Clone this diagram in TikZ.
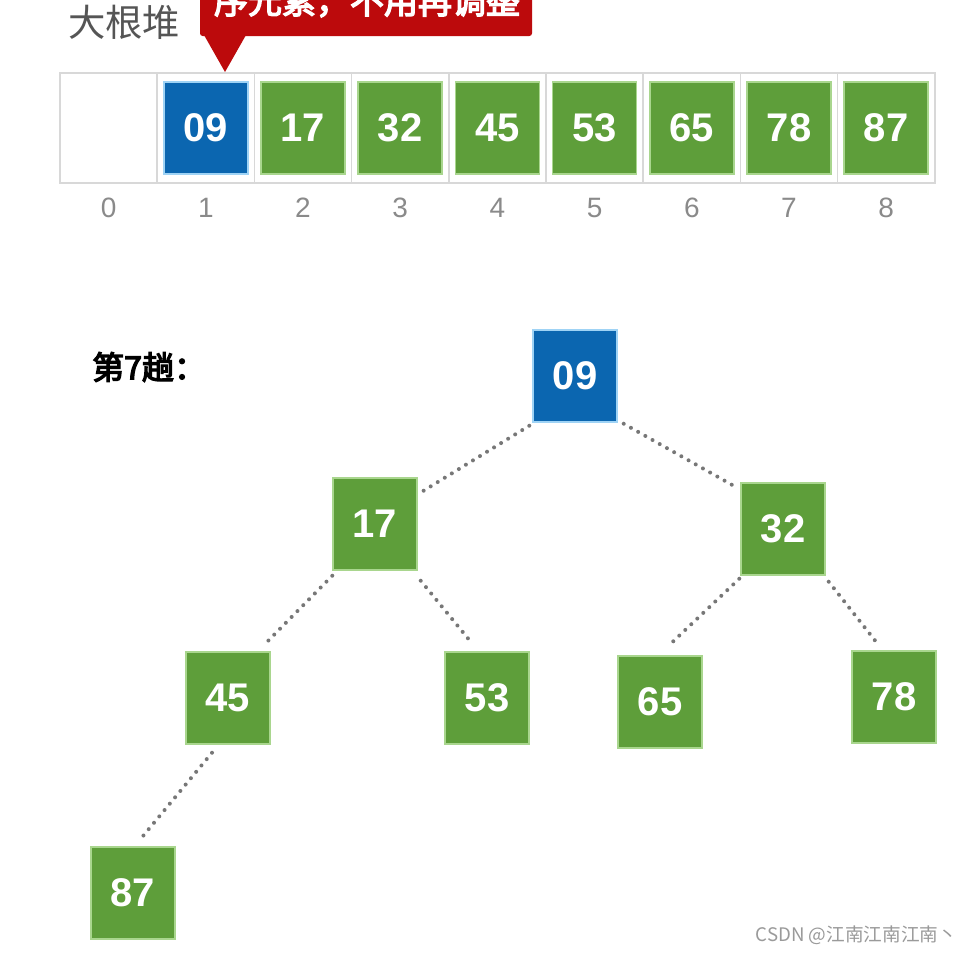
\documentclass[tikz,border=0pt]{standalone}
\usepackage{fontspec}
\setmainfont{Liberation Sans}
\newfontfamily\cjk{Noto Sans CJK SC}
\newfontfamily\cjkb[AutoFakeBold=4]{Noto Sans CJK SC}
\usetikzlibrary{calc}
\definecolor{grn}{HTML}{5E9E3A}
\definecolor{grnedge}{HTML}{A9D68E}
\definecolor{blu}{HTML}{0B66B0}
\definecolor{bluedge}{HTML}{9FD3F5}
\definecolor{redc}{HTML}{BC0A0C}
\definecolor{idx}{HTML}{8A8A8A}
\definecolor{framec}{HTML}{D8D8D8}
\definecolor{dotc}{HTML}{777777}
\definecolor{titlec}{HTML}{555555}
\definecolor{wmark}{HTML}{9A9A9A}
\begin{document}
\begin{tikzpicture}[x=0.75pt,y=-0.75pt,
  sq/.style={minimum width=63pt,minimum height=69pt,inner sep=0pt,text=white,
    font=\fontsize{30}{30}\selectfont\bfseries},
  gsq/.style={sq,fill=grn,draw=grnedge,line width=1.1pt},
  bsq/.style={sq,fill=blu,draw=bluedge,line width=1.1pt},
  cellbox/.style={minimum width=72.9pt,minimum height=82.5pt,inner sep=0pt,draw=framec,line width=1.3pt},
  idxl/.style={text=idx,font=\fontsize{21}{21}\selectfont},
  link/.style={draw=dotc,line width=3pt,line cap=round,dash pattern=on 0pt off 6.2pt}]
\useasboundingbox (0,0) rectangle (973,954);
\fill[white] (0,0) rectangle (973,954);

% title
\node[text=titlec,font=\cjk\fontsize{28}{28}\selectfont] (title) at (124,22) {大根堆};

% callout
\fill[redc,rounded corners=2pt] (200,-20) rectangle (532,36);
\fill[redc] (204,35) -- (225,72) -- (246,35) -- cycle;
\node[text=white,font=\cjkb\bfseries\fontsize{25.5}{25.5}\selectfont] (callout) at (367,1) {序元素，不用再调整};

% array cells
\foreach \i in {0,...,8}{
  \node[cellbox] (c\i) at ({108.6+97.2*\i},128) {};
  \node[idxl] (i\i) at ({108.6+97.2*\i},208) {\i};
}
\node[bsq] (a1) at (c1) {09};
\node[gsq] (a2) at (c2) {17};
\node[gsq] (a3) at (c3) {32};
\node[gsq] (a4) at (c4) {45};
\node[gsq] (a5) at (c5) {53};
\node[gsq] (a6) at (c6) {65};
\node[gsq] (a7) at (c7) {78};
\node[gsq] (a8) at (c8) {87};

% pass label
\node[anchor=west,inner sep=0pt,font=\cjkb\bfseries\fontsize{24}{24}\selectfont] (pass) at (92,367) {第7趟：};

% tree
\node[bsq] (t09) at (575,376) {09};
\node[gsq] (t17) at (375,524) {17};
\node[gsq] (t32) at (783,529) {32};
\node[gsq] (t45) at (228,698) {45};
\node[gsq] (t53) at (487,698) {53};
\node[gsq] (t65) at (660,702) {65};
\node[gsq] (t78) at (894,697) {78};
\node[gsq] (t87) at (133,893) {87};

\draw[link] ($(t09.south west)+(-3,3)$) -- ($(t17.north east)+(5,14)$);
\draw[link] ($(t09.south east)+(6,1)$) -- ($(t32.north west)+(-4,5)$);
\draw[link] ($(t17.south west)+(0,5)$) -- ($(t45.north east)+(-7,-6)$);
\draw[link] ($(t17.south east)+(3,10)$) -- ($(t53.north)+(-15,-8)$);
\draw[link] ($(t32.south west)+(-1,3)$) -- ($(t65.north)+(8,-9)$);
\draw[link] ($(t32.south east)+(3,6)$) -- ($(t78.north)+(-16,-6)$);
\draw[link] ($(t45.south)+(-16,8)$) -- ($(t87.north)+(9,-9)$);

% watermark
\node[anchor=east,text=wmark,font=\cjk\fontsize{14}{14}\selectfont] (wm) at (962,935) {CSDN @江南江南江南丶};
\end{tikzpicture}
\end{document}
